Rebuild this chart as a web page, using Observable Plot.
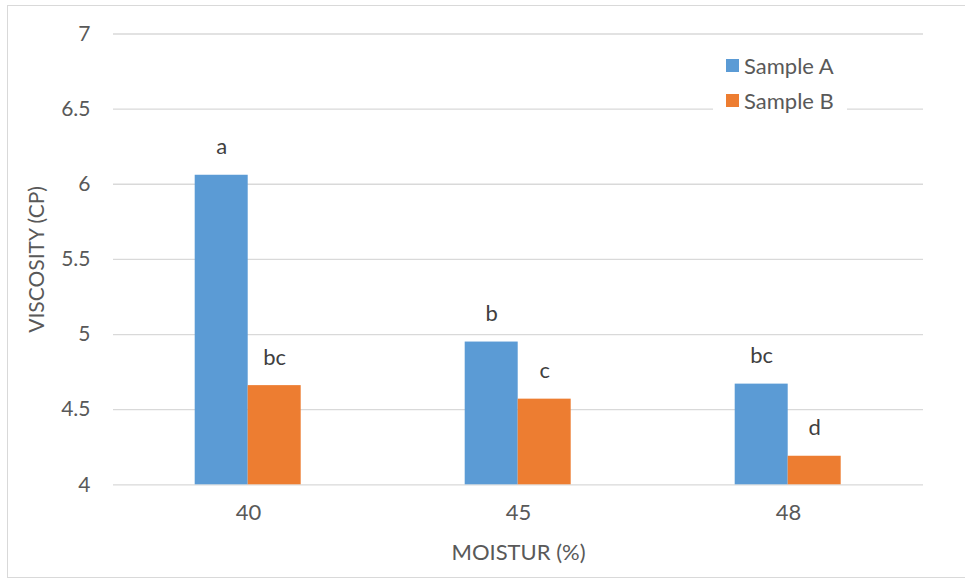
<!DOCTYPE html>
<html>
<head>
<meta charset="utf-8">
<script src="https://cdn.jsdelivr.net/npm/d3@7"></script>
<script src="https://cdn.jsdelivr.net/npm/@observablehq/plot@0.6"></script>
<style>
  html, body { margin: 0; padding: 0; background: #fff; }
  #wrap { position: relative; width: 965px; height: 580px; overflow: hidden; font-family: Lato, "Liberation Sans", sans-serif; }
  #border { position: absolute; left: 7px; top: 5px; width: 970px; height: 573px;
            border-top: 1.5px solid #d9d9d9; border-left: 1.5px solid #d9d9d9; border-bottom: 1.5px solid #d9d9d9; box-sizing: border-box; }
  #chart { position: absolute; left: 0; top: 0; }
  #legend { position: absolute; left: 713px; top: 48px; width: 134px; height: 68px; background: #fff; }
  .item { position: absolute; left: 13px; height: 22px; display: flex; align-items: center; font-size: 22px; color: #595959; white-space: nowrap; }
  .swatch { width: 13px; height: 13px; margin-right: 5px; }
</style>
</head>
<body>
<div id="wrap">
  <div id="border"></div>
  <div id="chart"></div>
  <div id="legend"></div>
</div>
<script>
// Moisture levels (x categories) and the two samples compared at each level
const moisture = ["40", "45", "48"];
const samples = ["Sample A", "Sample B"];
const sampleA = [6.06, 4.95, 4.67];
const sampleB = [4.66, 4.57, 4.19];
// Significance letters shown above each bar
const lettersA = ["a", "b", "bc"];
const lettersB = ["bc", "c", "d"];
const yTicks = [4, 4.5, 5, 5.5, 6, 6.5, 7];
const yDomain = [4, 7];
const colors = ["#5b9bd5", "#ed7d31"];

const rows = moisture.flatMap((m, i) => [
  {moisture: m, sample: samples[0], value: sampleA[i], letter: lettersA[i]},
  {moisture: m, sample: samples[1], value: sampleB[i], letter: lettersB[i]}
]);

const chart = Plot.plot({
  width: 965,
  height: 580,
  marginTop: 33.5,
  marginBottom: 95.7,
  marginLeft: 112.3,
  marginRight: 41,
  style: {fontFamily: "Lato, 'Liberation Sans', sans-serif", fontSize: "22px", color: "#595959", background: "transparent", overflow: "visible"},
  fx: {domain: moisture, paddingInner: 0, paddingOuter: 0},
  x: {domain: samples, paddingInner: 0, paddingOuter: 1.51, axis: null},
  y: {domain: yDomain},
  color: {domain: samples, range: colors},
  marks: [
    Plot.ruleY(yTicks, {stroke: "#d9d9d9", strokeWidth: 1.3}),
    Plot.barY(rows, {fx: "moisture", x: "sample", y1: yDomain[0], y2: "value", fill: "sample"}),
    Plot.text(rows, {fx: "moisture", x: "sample", y: "value", text: "letter", dy: -28, fill: "#404040"}),
    Plot.axisY(yTicks, {
      tickSize: 0, tickPadding: 23, tickFormat: d => String(d),
      label: "VISCOSITY (CP)", labelAnchor: "center", labelArrow: "none", labelOffset: 84,
      fontSize: 21
    }),
    Plot.axisFx({
      anchor: "bottom",
      tickSize: 0, tickPadding: 20,
      label: "MOISTUR (%)", labelAnchor: "center", labelArrow: "none", labelOffset: 75
    })
  ]
});
document.getElementById("chart").appendChild(chart);

// Legend: one swatch per sample, stacked vertically
const legend = document.getElementById("legend");
samples.forEach((s, i) => {
  const item = document.createElement("div");
  item.className = "item";
  item.style.top = (6.5 + i * 35) + "px";
  const sw = document.createElement("span");
  sw.className = "swatch";
  sw.style.background = colors[i];
  item.appendChild(sw);
  item.appendChild(document.createTextNode(s));
  legend.appendChild(item);
});
</script>
</body>
</html>
